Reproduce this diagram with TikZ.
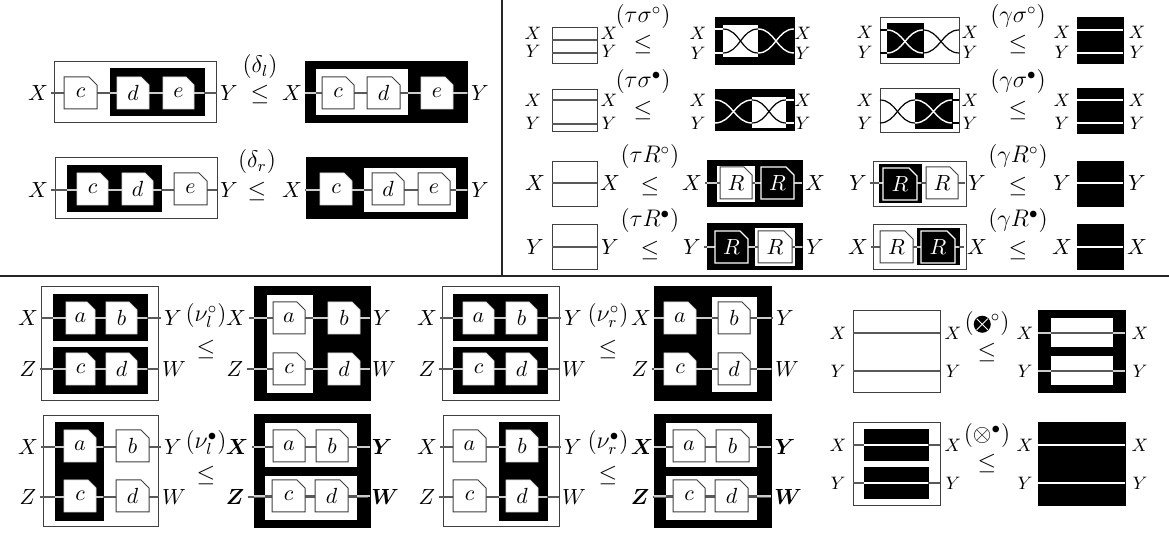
\documentclass[tikz,border=0pt]{standalone}
\usepackage{bm}
\tikzset{
  wbox/.style={rectangle,inner sep=0pt,outer sep=0pt,draw=black!75,fill=white,line width=0.5pt},
  bbox/.style={rectangle,inner sep=0pt,outer sep=0pt,draw=black,fill=black,line width=0.5pt},
  wfill/.style={rectangle,inner sep=0pt,outer sep=0pt,fill=white},
  gatefr/.style={rectangle,inner sep=0pt,outer sep=0pt,minimum height=16pt},
  gw/.style={fill=white,draw=black!75,line width=0.5pt},
  gn/.style={fill=white,draw=black!15,line width=0.4pt},
  gb/.style={fill=black,draw=white,line width=0.6pt,text=white},
  wd/.style={draw=black!65,line width=0.6pt},
  wl/.style={draw=black!20,line width=0.6pt},
  ww/.style={draw=white,line width=0.7pt},
  wk/.style={draw=black,line width=0.6pt},
  lab/.style={inner sep=1.5pt,font=\fontsize{10.5}{12}\selectfont},
  rel/.style={inner sep=1pt,font=\fontsize{11.5}{13}\selectfont},
  rule/.style={draw=black!85,line width=0.6pt},
  glab/.style={inner sep=0pt,font=\fontsize{11}{13}\selectfont},
  sm/.style={font=\fontsize{9.2}{11}\selectfont},
  md/.style={font=\fontsize{11}{13}\selectfont},
  nm/.style={font=\fontsize{9.5}{11}\selectfont},
}
\newcommand\bx[6]{%
  \pgfmathsetmacro\bxw{(#4-#2)*0.5}%
  \pgfmathsetmacro\bxh{(#5-#3)*0.5}%
  \node[#6,minimum width=\bxw pt,minimum height=\bxh pt] (#1) at ({(#2+#4)/2},{(#3+#5)/2}) {};}
\newcommand\gate[6]{%
  \pgfmathsetmacro\gtw{(#3-#2)*0.5}%
  \node[gatefr,minimum width=\gtw pt] (#1) at ({(#2+#3)/2},#4) {};
  \draw[#6] (#1.south west) -- (#1.north west) -- ([xshift=-4pt]#1.north east) -- ([yshift=-4pt]#1.north east) -- (#1.south east) -- cycle;
  \node[glab,#6,draw=none,fill=none] (#1t) at (#1.center) {$#5$};}
\newcommand\seg[3]{\draw[#1] (#2.west |- #3) -- (#2.east |- #3);}
\newcommand\cross[5]{\draw[#1] (#2 |- #4) to[out=0,in=180] (#3 |- #5); \draw[#1] (#2 |- #5) to[out=0,in=180] (#3 |- #4);}
\newcommand\lb[5][]{\node[lab,#1] (#2) at (#3,#4) {$#5$};}
\newcommand\blkotimes{\tikz[baseline=-0.25em]{\fill[black] (0,0) circle[radius=0.37em]; \draw[white,line width=0.5pt] (-0.24em,-0.24em)--(0.24em,0.24em) (-0.24em,0.24em)--(0.24em,-0.24em);}}
\begin{document}
\begin{tikzpicture}[x=0.5pt,y=-0.5pt]
\useasboundingbox (0,0) rectangle (1169,533);
\fill[white] (0,0) rectangle (1169,533);
% ---------------- Panel A: delta ----------------
\coordinate (wa1) at (0,93);
\lb{aX1}{38}{93}{X} \lb{aY1}{229}{93}{Y}
\bx{a1o}{54}{62}{216}{123}{wbox}
\bx{a1i}{110}{69}{204}{116}{bbox}
\draw[wd] (aX1.east) -- (aY1.west);
\seg{wl}{a1i}{wa1}
\gate{a1c}{64}{97}{93}{c}{gw}
\gate{a1d}{117}{149}{93}{d}{gn}
\gate{a1e}{163}{194}{93}{e}{gn}
\node[rel] (aR1) at (260,67) {$(\delta_l)$};
\node[rel] (aL1) at (260,95) {$\leq$};
\lb{aX2}{292}{93}{X} \lb{aY2}{480}{93}{Y}
\bx{a2o}{305}{62}{467}{123}{bbox}
\bx{a2i}{316}{69}{408}{115}{wfill}
\draw[wd] (aX2.east) -- (aY2.west);
\seg{wl}{a2o}{wa1}
\seg{wd}{a2i}{wa1}
\gate{a2c}{322}{354}{93}{c}{gw}
\gate{a2d}{367}{400}{93}{d}{gw}
\gate{a2e}{421}{453}{93}{e}{gn}
\coordinate (wa2) at (0,190);
\lb{aX3}{38}{190}{X} \lb{aY3}{229}{190}{Y}
\bx{a3o}{55}{158}{217}{219}{wbox}
\bx{a3i}{67}{166}{161}{212}{bbox}
\draw[wd] (aX3.east) -- (aY3.west);
\seg{wl}{a3i}{wa2}
\gate{a3c}{77}{108}{189}{c}{gn}
\gate{a3d}{122}{153}{189}{d}{gn}
\gate{a3e}{174}{207}{189}{e}{gw}
\node[rel] (aR2) at (257,162) {$(\delta_r)$};
\node[rel] (aL2) at (257,192) {$\leq$};
\lb{aX4}{292}{190}{X} \lb{aY4}{480}{190}{Y}
\bx{a4o}{306}{158}{467}{219}{bbox}
\bx{a4i}{364}{168}{456}{212}{wfill}
\draw[wd] (aX4.east) -- (aY4.west);
\seg{wl}{a4o}{wa2}
\seg{wd}{a4i}{wa2}
\gate{a4c}{320}{352}{189}{c}{gn}
\gate{a4d}{372}{404}{189}{d}{gw}
\gate{a4e}{418}{450}{189}{e}{gw}
% dividers
\coordinate (vt) at (502,0); \coordinate (vb) at (502,276);
\coordinate (hl) at (0,276); \coordinate (hr) at (1169,276);
\draw[rule] (vt) -- (vb);
\draw[rule] (hl) -- (hr);
% ---------------- Panel B: sigma ----------------
\coordinate (b1u) at (0,40); \coordinate (b1d) at (0,53);
\bx{b1o}{552}{28}{597}{64}{wbox}
\seg{wd}{b1o}{b1u} \seg{wd}{b1o}{b1d}
\lb[sm]{b1X}{533}{33}{X} \lb[sm]{b1Y}{533}{51}{Y}
\lb[sm]{b1Xr}{609}{33}{X} \lb[sm]{b1Yr}{609}{51}{Y}
\node[rel] (b1R) at (643,17) {$(\tau\sigma^\circ)$};
\node[rel] (b1L) at (643,45) {$\leq$};
\coordinate (b2u) at (0,29); \coordinate (b2d) at (0,53);
\bx{b2o}{715}{18}{794}{65}{bbox}
\bx{b2i}{723}{25}{758}{57}{wfill}
\draw[ww] (b2o.west |- b2u) -- (b2i.west |- b2u);
\draw[ww] (b2o.west |- b2d) -- (b2i.west |- b2d);
\cross{wk}{b2i.west}{b2i.east}{b2u}{b2d}
\cross{ww}{b2i.east}{b2o.east}{b2u}{b2d}
\lb[sm]{b2X}{698}{33}{X} \lb[sm]{b2Y}{698}{53}{Y}
\lb[sm]{b2Xr}{803}{33}{X} \lb[sm]{b2Yr}{803}{53}{Y}
\coordinate (b3u) at (0,100); \coordinate (b3d) at (0,124);
\bx{b3o}{552}{90}{597}{132}{wbox}
\seg{wd}{b3o}{b3u} \seg{wd}{b3o}{b3d}
\lb[sm]{b3X}{533}{100}{X} \lb[sm]{b3Y}{533}{123}{Y}
\lb[sm]{b3Xr}{609}{100}{X} \lb[sm]{b3Yr}{609}{123}{Y}
\node[rel] (b3R) at (643,82) {$(\tau\sigma^\bullet)$};
\node[rel] (b3L) at (643,111) {$\leq$};
\coordinate (b4u) at (0,100); \coordinate (b4d) at (0,123);
\bx{b4o}{715}{90}{794}{131}{bbox}
\bx{b4i}{752}{97}{786}{128}{wfill}
\cross{ww}{b4o.west}{b4i.west}{b4u}{b4d}
\cross{wk}{b4i.west}{b4i.east}{b4u}{b4d}
\draw[ww] (b4i.east |- b4u) -- (b4o.east |- b4u);
\draw[ww] (b4i.east |- b4d) -- (b4o.east |- b4d);
\lb[sm]{b4X}{698}{100}{X} \lb[sm]{b4Y}{698}{123}{Y}
\lb[sm]{b4Xr}{803}{100}{X} \lb[sm]{b4Yr}{803}{123}{Y}
\coordinate (b5u) at (0,30); \coordinate (b5d) at (0,53);
\bx{b5o}{880}{18}{959}{64}{wbox}
\bx{b5i}{887}{24}{923}{58}{bbox}
\draw[wk] (b5o.west |- b5u) -- (b5i.west |- b5u);
\draw[wk] (b5o.west |- b5d) -- (b5i.west |- b5d);
\cross{ww}{b5i.west}{b5i.east}{b5u}{b5d}
\cross{wk}{b5i.east}{b5o.east}{b5u}{b5d}
\lb[sm]{b5X}{865}{32}{X} \lb[sm]{b5Y}{865}{52}{Y}
\lb[sm]{b5Xr}{970}{32}{X} \lb[sm]{b5Yr}{970}{52}{Y}
\node[rel] (b5R) at (1018,17) {$(\gamma\sigma^\circ)$};
\node[rel] (b5L) at (1018,45) {$\leq$};
\bx{b6o}{1077}{18}{1123}{64}{bbox}
\seg{ww}{b6o}{b5u} \seg{ww}{b6o}{b5d}
\lb[sm]{b6X}{1062}{32}{X} \lb[sm]{b6Y}{1062}{52}{Y}
\lb[sm]{b6Xr}{1137}{32}{X} \lb[sm]{b6Yr}{1137}{52}{Y}
\coordinate (b7u) at (0,100); \coordinate (b7d) at (0,123);
\bx{b7o}{880}{89}{959}{133}{wbox}
\bx{b7i}{915}{94}{952}{129}{bbox}
\cross{wk}{b7o.west}{b7i.west}{b7u}{b7d}
\cross{ww}{b7i.west}{b7i.east}{b7u}{b7d}
\draw[wk] (b7i.east |- b7u) -- (b7o.east |- b7u);
\draw[wk] (b7i.east |- b7d) -- (b7o.east |- b7d);
\lb[sm]{b7X}{865}{100}{X} \lb[sm]{b7Y}{865}{123}{Y}
\lb[sm]{b7Xr}{970}{100}{X} \lb[sm]{b7Yr}{970}{123}{Y}
\node[rel] (b7R) at (1018,82) {$(\gamma\sigma^\bullet)$};
\node[rel] (b7L) at (1018,111) {$\leq$};
\bx{b8o}{1077}{89}{1123}{134}{bbox}
\seg{ww}{b8o}{b7u} \seg{ww}{b8o}{b7d}
\lb[sm]{b8X}{1062}{100}{X} \lb[sm]{b8Y}{1062}{123}{Y}
\lb[sm]{b8Xr}{1137}{100}{X} \lb[sm]{b8Yr}{1137}{123}{Y}
% ---------------- Panel C: R ----------------
\coordinate (c1w) at (0,183);
\bx{c1o}{552}{162}{597}{207}{wbox}
\seg{wd}{c1o}{c1w}
\lb[md]{c1X}{535}{183}{X} \lb[md]{c1Xr}{610}{183}{X}
\node[rel] (c1R) at (650,157) {$(\tau R^\circ)$};
\node[rel] (c1L) at (650,187) {$\leq$};
\lb[md]{c2X}{692}{183}{X} \lb[md]{c2Xr}{815}{183}{X}
\bx{c2o}{707}{161}{802}{207}{bbox}
\bx{c2i}{717}{166}{755}{202}{wfill}
\draw[wd] (c2X.east) -- (c2Xr.west);
\seg{wl}{c2o}{c1w}
\seg{wd}{c2i}{c1w}
\gate{c2g}{720}{752}{183}{R}{gw,md}
\gate{c2h}{761}{794}{183}{R}{gb,md}
\coordinate (c3w) at (0,247);
\bx{c3o}{552}{225}{597}{270}{wbox}
\seg{wd}{c3o}{c3w}
\lb[md]{c3Y}{535}{247}{Y} \lb[md]{c3Yr}{610}{247}{Y}
\node[rel] (c3R) at (650,221) {$(\tau R^\bullet)$};
\node[rel] (c3L) at (650,251) {$\leq$};
\lb[md]{c4Y}{692}{247}{Y} \lb[md]{c4Yr}{815}{247}{Y}
\bx{c4o}{707}{224}{802}{270}{bbox}
\bx{c4i}{755}{228}{795}{266}{wfill}
\draw[wd] (c4Y.east) -- (c4Yr.west);
\seg{wl}{c4o}{c3w}
\seg{wd}{c4i}{c3w}
\gate{c4g}{715}{748}{247}{R}{gb,md}
\gate{c4h}{758}{792}{247}{R}{gw,md}
\coordinate (c5w) at (0,183);
\lb[md]{c5Y}{858}{183}{Y} \lb[md]{c5Yr}{977}{183}{Y}
\bx{c5o}{873}{162}{966}{207}{wbox}
\bx{c5i}{879}{165}{921}{203}{bbox}
\draw[wd] (c5Y.east) -- (c5Yr.west);
\seg{wl}{c5i}{c5w}
\gate{c5g}{883}{917}{184}{R}{gb,md}
\gate{c5h}{926}{958}{183}{R}{gw,md}
\node[rel] (c5R) at (1018,157) {$(\gamma R^\circ)$};
\node[rel] (c5L) at (1018,187) {$\leq$};
\bx{c6o}{1077}{162}{1123}{207}{bbox}
\seg{ww}{c6o}{c5w}
\lb[md]{c6Y}{1062}{183}{Y} \lb[md]{c6Yr}{1137}{183}{Y}
\coordinate (c7w) at (0,247);
\lb[md]{c7X}{858}{247}{X} \lb[md]{c7Xr}{977}{247}{X}
\bx{c7o}{873}{225}{966}{270}{wbox}
\bx{c7i}{917}{229}{959}{265}{bbox}
\draw[wd] (c7X.east) -- (c7Xr.west);
\seg{wl}{c7i}{c7w}
\gate{c7g}{880}{913}{247}{R}{gw,md}
\gate{c7h}{921}{955}{247}{R}{gb,md}
\node[rel] (c7R) at (1018,221) {$(\gamma R^\bullet)$};
\node[rel] (c7L) at (1018,251) {$\leq$};
\bx{c8o}{1077}{225}{1123}{270}{bbox}
\seg{ww}{c8o}{c7w}
\lb[md]{c8X}{1062}{247}{X} \lb[md]{c8Xr}{1137}{247}{X}
% ---------------- Panel D: nu ----------------
\coordinate (d1u) at (0,318); \coordinate (d1d) at (0,369);
\lb{d1X}{28}{318}{X} \lb{d1Z}{28}{369}{Z} \lb{d1Y}{173}{318}{Y} \lb{d1W}{174}{369}{W}
\bx{d1o}{41}{287}{158}{401}{wbox}
\bx{d1p}{53}{295}{147}{341}{bbox}
\bx{d1q}{53}{348}{147}{394}{bbox}
\draw[wd] (d1X.east) -- (d1Y.west); \draw[wd] (d1Z.east) -- (d1W.west);
\seg{wl}{d1p}{d1u} \seg{wl}{d1q}{d1d}
\gate{d1a}{66}{95}{318}{a}{gn}
\gate{d1b}{106}{137}{318}{b}{gn}
\gate{d1c}{66}{95}{369}{c}{gn}
\gate{d1d}{106}{137}{369}{d}{gn}
\node[rel] (d1R) at (206,316) {$(\nu_l^\circ)$};
\node[rel] (d1L) at (206,350) {$\leq$};
\lb{d2X}{236}{318}{X} \lb{d2Z}{235}{369}{Z} \lb{d2Y}{382}{318}{Y} \lb{d2W}{384}{369}{W}
\bx{d2o}{254}{287}{370}{401}{bbox}
\bx{d2i}{267}{295}{313}{393}{wfill}
\draw[wd] (d2X.east) -- (d2Y.west); \draw[wd] (d2Z.east) -- (d2W.west);
\seg{wl}{d2o}{d1u} \seg{wl}{d2o}{d1d}
\seg{wd}{d2i}{d1u} \seg{wd}{d2i}{d1d}
\gate{d2a}{273}{305}{318}{a}{gw}
\gate{d2c}{273}{305}{369}{c}{gw}
\gate{d2b}{328}{360}{318}{b}{gn}
\gate{d2d}{328}{360}{369}{d}{gn}
\coordinate (d3u) at (0,447); \coordinate (d3d) at (0,497);
\lb{d3X}{28}{447}{X} \lb{d3Z}{28}{497}{Z} \lb{d3Y}{173}{447}{Y} \lb{d3W}{174}{497}{W}
\bx{d3o}{43}{416}{158}{527}{wbox}
\bx{d3i}{55}{423}{103}{521}{bbox}
\draw[wd] (d3X.east) -- (d3Y.west); \draw[wd] (d3Z.east) -- (d3W.west);
\seg{wl}{d3i}{d3u} \seg{wl}{d3i}{d3d}
\gate{d3a}{64}{96}{446}{a}{gn}
\gate{d3c}{64}{96}{496}{c}{gn}
\gate{d3b}{116}{149}{446}{b}{gw}
\gate{d3d}{116}{149}{496}{d}{gw}
\node[rel] (d3R) at (206,443) {$(\nu_l^\bullet)$};
\node[rel] (d3L) at (206,476) {$\leq$};
\lb{d4X}{237}{447}{\bm{X}} \lb{d4Z}{235}{497}{\bm{Z}} \lb{d4Y}{382}{447}{\bm{Y}} \lb{d4W}{385}{497}{\bm{W}}
\bx{d4o}{254}{415}{370}{528}{bbox}
\bx{d4p}{265}{423}{357}{467}{wfill}
\bx{d4q}{265}{476}{357}{520}{wfill}
\draw[wd] (d4X.east) -- (d4Y.west); \draw[wd] (d4Z.east) -- (d4W.west);
\seg{wl}{d4o}{d3u} \seg{wl}{d4o}{d3d}
\seg{wd}{d4p}{d3u} \seg{wd}{d4q}{d3d}
\gate{d4a}{273}{305}{446}{a}{gw}
\gate{d4b}{316}{348}{446}{b}{gw}
\gate{d4c}{272}{305}{496}{c}{gw}
\gate{d4d}{315}{348}{496}{d}{gw}
\coordinate (d5u) at (0,318); \coordinate (d5d) at (0,369);
\lb{d5X}{427}{318}{X} \lb{d5Z}{427}{369}{Z} \lb{d5Y}{573}{318}{Y} \lb{d5W}{574}{369}{W}
\bx{d5o}{442}{287}{559}{401}{wbox}
\bx{d5p}{453}{295}{547}{341}{bbox}
\bx{d5q}{453}{348}{547}{394}{bbox}
\draw[wd] (d5X.east) -- (d5Y.west); \draw[wd] (d5Z.east) -- (d5W.west);
\seg{wl}{d5p}{d5u} \seg{wl}{d5q}{d5d}
\gate{d5a}{463}{494}{318}{a}{gn}
\gate{d5b}{506}{537}{318}{b}{gn}
\gate{d5c}{463}{494}{369}{c}{gn}
\gate{d5d}{506}{537}{369}{d}{gn}
\node[rel] (d5R) at (608,316) {$(\nu_r^\circ)$};
\node[rel] (d5L) at (608,350) {$\leq$};
\lb{d6X}{641}{318}{X} \lb{d6Z}{640}{369}{Z} \lb{d6Y}{785}{318}{Y} \lb{d6W}{787}{369}{W}
\bx{d6o}{654}{287}{771}{401}{bbox}
\bx{d6i}{712}{297}{757}{392}{wfill}
\draw[wd] (d6X.east) -- (d6Y.west); \draw[wd] (d6Z.east) -- (d6W.west);
\seg{wl}{d6o}{d5u} \seg{wl}{d6o}{d5d}
\seg{wd}{d6i}{d5u} \seg{wd}{d6i}{d5d}
\gate{d6a}{664}{696}{318}{a}{gn}
\gate{d6c}{664}{696}{369}{c}{gn}
\gate{d6b}{718}{750}{318}{b}{gw}
\gate{d6d}{718}{750}{369}{d}{gw}
\coordinate (d7u) at (0,447); \coordinate (d7d) at (0,497);
\lb{d7X}{427}{447}{X} \lb{d7Z}{427}{497}{Z} \lb{d7Y}{573}{447}{Y} \lb{d7W}{574}{497}{W}
\bx{d7o}{443}{416}{559}{527}{wbox}
\bx{d7i}{499}{423}{547}{521}{bbox}
\draw[wd] (d7X.east) -- (d7Y.west); \draw[wd] (d7Z.east) -- (d7W.west);
\seg{wl}{d7i}{d7u} \seg{wl}{d7i}{d7d}
\gate{d7a}{453}{486}{446}{a}{gw}
\gate{d7c}{453}{486}{496}{c}{gw}
\gate{d7b}{506}{538}{446}{b}{gn}
\gate{d7d}{506}{538}{496}{d}{gn}
\node[rel] (d7R) at (608,443) {$(\nu_r^\bullet)$};
\node[rel] (d7L) at (608,476) {$\leq$};
\lb{d8X}{642}{447}{\bm{X}} \lb{d8Z}{640}{497}{\bm{Z}} \lb{d8Y}{785}{447}{\bm{Y}} \lb{d8W}{788}{497}{\bm{W}}
\bx{d8o}{654}{415}{771}{528}{bbox}
\bx{d8p}{666}{423}{757}{467}{wfill}
\bx{d8q}{666}{476}{757}{520}{wfill}
\draw[wd] (d8X.east) -- (d8Y.west); \draw[wd] (d8Z.east) -- (d8W.west);
\seg{wl}{d8o}{d7u} \seg{wl}{d8o}{d7d}
\seg{wd}{d8p}{d7u} \seg{wd}{d8q}{d7d}
\gate{d8a}{673}{705}{446}{a}{gw}
\gate{d8b}{716}{749}{446}{b}{gw}
\gate{d8c}{673}{705}{496}{c}{gw}
\gate{d8d}{715}{748}{496}{d}{gw}
% ---------------- Panel E: tensor ----------------
\coordinate (e1u) at (0,333); \coordinate (e1d) at (0,371);
\bx{e1o}{853}{311}{940}{393}{wbox}
\seg{wd}{e1o}{e1u} \seg{wd}{e1o}{e1d}
\lb[nm]{e1X}{838}{333}{X} \lb[nm]{e1Y}{838}{371}{Y}
\lb[nm]{e1Xr}{953}{333}{X} \lb[nm]{e1Yr}{953}{371}{Y}
\node[rel] (e1R) at (987,324) {$(\blkotimes^{\circ})$};
\node[rel] (e1L) at (987,353) {$\leq$};
\bx{e2o}{1038}{311}{1125}{393}{bbox}
\bx{e2p}{1051}{318}{1113}{347}{wfill}
\bx{e2q}{1051}{356}{1113}{385}{wfill}
\seg{wl}{e2o}{e1u} \seg{wl}{e2o}{e1d}
\seg{wd}{e2p}{e1u} \seg{wd}{e2q}{e1d}
\lb[nm]{e2X}{1025}{333}{X} \lb[nm]{e2Y}{1025}{371}{Y}
\lb[nm]{e2Xr}{1140}{333}{X} \lb[nm]{e2Yr}{1140}{371}{Y}
\coordinate (e3u) at (0,445); \coordinate (e3d) at (0,483);
\bx{e3o}{853}{423}{940}{506}{wbox}
\bx{e3p}{864}{430}{928}{461}{bbox}
\bx{e3q}{864}{468}{928}{499}{bbox}
\seg{wd}{e3o}{e3u} \seg{wd}{e3o}{e3d}
\seg{ww}{e3p}{e3u} \seg{ww}{e3q}{e3d}
\lb[nm]{e3X}{838}{445}{X} \lb[nm]{e3Y}{838}{483}{Y}
\lb[nm]{e3Xr}{953}{445}{X} \lb[nm]{e3Yr}{953}{483}{Y}
\node[rel] (e3R) at (987,436) {$(\otimes^{\bullet})$};
\node[rel] (e3L) at (987,464) {$\leq$};
\bx{e4o}{1038}{423}{1125}{506}{bbox}
\seg{ww}{e4o}{e3u} \seg{ww}{e4o}{e3d}
\lb[nm]{e4X}{1025}{445}{X} \lb[nm]{e4Y}{1025}{483}{Y}
\lb[nm]{e4Xr}{1140}{445}{X} \lb[nm]{e4Yr}{1140}{483}{Y}
\end{tikzpicture}
\end{document}
